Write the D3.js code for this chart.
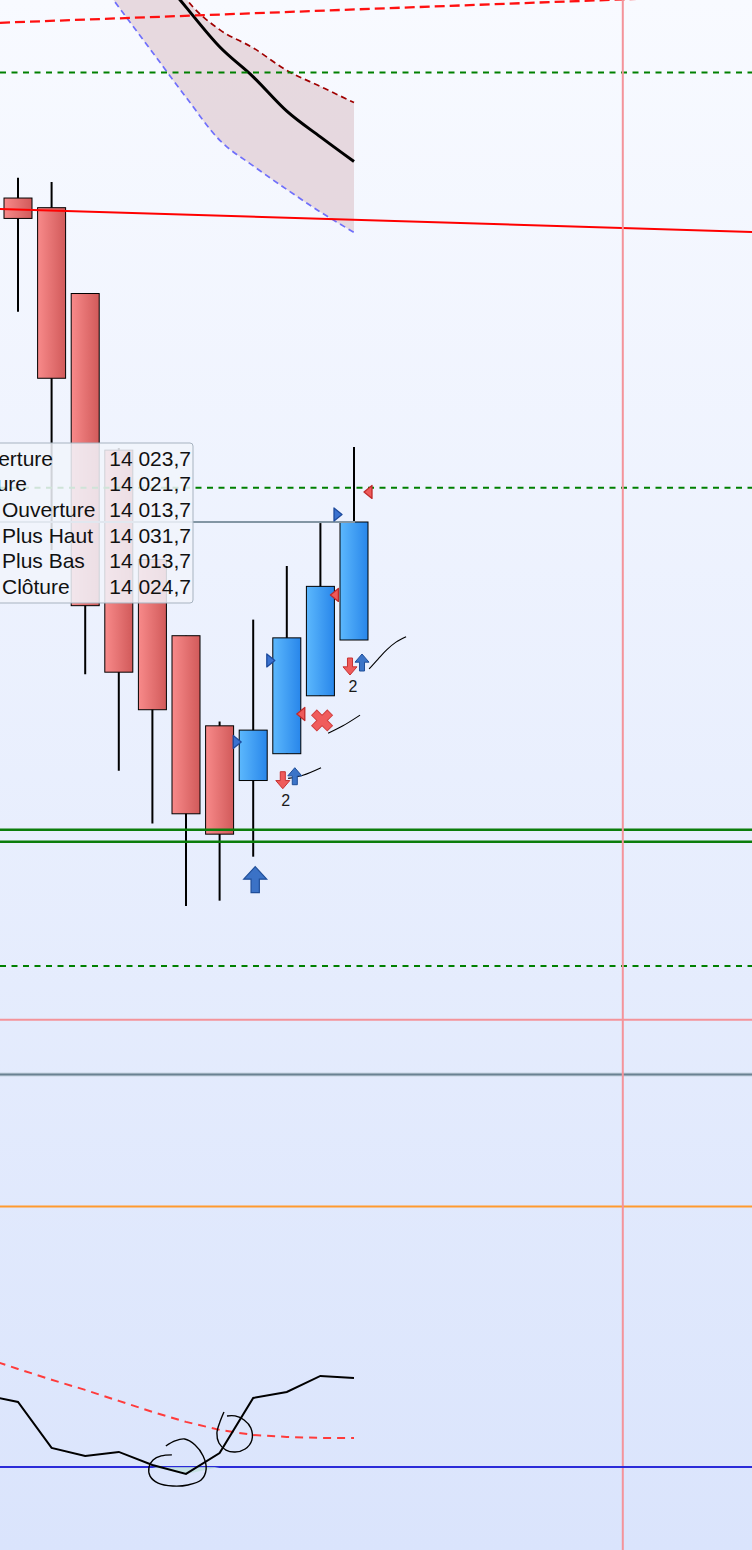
<!DOCTYPE html>
<html><head><meta charset="utf-8">
<script src="https://cdn.jsdelivr.net/npm/d3@7"></script>
<style>html,body{margin:0;padding:0;background:#fff}svg{display:block}</style>
</head><body>
<script>
// ---------- DATA ----------
const idx    = [0,1,2,3,4,5,6,7,8,9,10];
const opens  = [14054.9,14054.0,14046.0,14031.4,14021.2,14014.1,14005.7,14000.6,14003.1,14008.5,14013.7];
const highs  = [14056.8,14056.4,14046.0,14031.6,14021.2,14014.1,14006.1,14015.6,14020.6,14024.6,14031.7];
const lows   = [14044.3,14022.1,14010.5,14001.5,13996.6,13988.9,13989.4,13993.5,14003.1,14008.5,14013.7];
const closes = [14053.0,14038.1,14016.9,14010.7,14007.2,13997.5,13995.6,14005.3,14013.9,14018.7,14024.7];

const bandIdx   = [2,3,4,5,6,7,8,9,10];
const bandUpper = [14090.1,14085.5,14079.0,14073.5,14070.6,14068.9,14066.8,14065.3,14063.8];
const bandMid   = [14086.4,14081.3,14076.6,14072.7,14069.0,14066.2,14063.0,14060.6,14058.3];
const bandLower = [14076.9,14072.7,14068.5,14064.3,14060.3,14057.9,14055.7,14053.6,14051.7];

const trendSolid  = [[0,14053.83],[20,14051.91]];
const trendDashed = [[0,14071.3],[17,14073.3]];
const greenDashedLevels = [14066.6,14027.9,13983.3];
const greenSolidLevels  = [13996.0,13994.9];
const pinkLevel = 13978.3, greyLevel = 13973.2, orangeLevel = 13960.9;
const vLineIndex = 18;

const entryMarks = [[7,14004.2],[8,14011.8],[10,14025.4]];
const exitMarks  = [[8,14006.8],[9,14017.9],[10,14027.5]];
const crossMarks = [[9.05,14006.2]];
const pairArrowIdx = [8,10];
const pairLabels = ["2","2"];
const bigArrowIdx = [7];

const oscIdx   = [-1,0,1,2,3,4,5,6,7,8,9,10];
const oscMain  = [54.0,50.7,29.0,25.2,27.1,20.9,16.7,26.6,52.6,55.4,63.0,62.0];
const oscSignal= [71.5,66.3,61.2,56.4,51.2,46.0,41.3,37.5,35.1,34.2,33.7,33.7];
const oscLevel = 20;

const loop1 = [[4.40,29.9],[4.67,32.3],[4.96,33.2],[5.27,30.4],[5.51,25.2],[5.60,19.0],[5.45,13.8],[5.06,11.5],[4.61,11.0],[4.17,12.4],[3.93,15.7],[3.90,20.0],[4.02,23.3],[4.26,25.2],[4.58,25.7]];
const loop2 = [[6.13,46.0],[6.01,41.3],[5.92,36.0],[5.98,31.3],[6.19,28.0],[6.46,27.1],[6.76,28.5],[6.96,32.7],[6.93,38.4],[6.73,42.2],[6.46,44.1],[6.22,44.1]];
const strokeA = [[10.45,14011.0],[10.71,14011.9],[10.98,14012.8],[11.25,14013.5],[11.55,14014.0]];
const strokeB = [[9.23,14005.0],[9.67,14005.7],[10.18,14006.7]];
const strokeC = [[8.04,14000.8],[8.48,14001.1],[9.02,14001.8]];

const tipLabels = ["Ouverture","Clôture","Ouverture","Plus Haut","Plus Bas","Clôture"];
const tipValues = [14023.7,14021.7,14013.7,14031.7,14013.7,14024.7];

// ---------- CHART ----------
const W=752,H=1550;
const x = d3.scaleLinear().domain([0,10]).range([18,354]);
const y = d3.scaleLinear().domain([14013.7,14024.7]).range([640,522]);
const yI = d3.scaleLinear().domain([0,100]).range([1509.3,1297.6]);
const fr = d3.formatLocale({decimal:",",thousands:" ",grouping:[3],currency:["","€"]}).format(",.1f");
const FONT = "Liberation Sans, Arial, Helvetica, sans-serif";

const svg = d3.select("body").append("svg").attr("width",W).attr("height",H);
const defs = svg.append("defs");
const bg = defs.append("linearGradient").attr("id","bg").attr("x1",0).attr("y1",0).attr("x2",0).attr("y2",1);
bg.append("stop").attr("offset",0).attr("stop-color","#f8faff");
bg.append("stop").attr("offset",1).attr("stop-color","#dae4fc");
const gb = defs.append("linearGradient").attr("id","bear");
gb.append("stop").attr("offset",0).attr("stop-color","#f88a8a");
gb.append("stop").attr("offset",1).attr("stop-color","#d15a5a");
const gu = defs.append("linearGradient").attr("id","bull");
gu.append("stop").attr("offset",0).attr("stop-color","#5cb8fd");
gu.append("stop").attr("offset",1).attr("stop-color","#2886ea");

svg.append("rect").attr("width",W).attr("height",H).attr("fill","url(#bg)");

// band fill
const bandData = bandIdx.map((d,i)=>({i:d,u:bandUpper[i],m:bandMid[i],l:bandLower[i]}));
svg.append("path").datum(bandData)
  .attr("d",d3.area().x(d=>x(d.i)).y0(d=>y(d.l)).y1(d=>y(d.u)).curve(d3.curveMonotoneX))
  .attr("fill","#dcc3c9").attr("fill-opacity",0.6);

// candles
const candles = idx.map((d,i)=>({i:d,o:opens[i],h:highs[i],l:lows[i],c:closes[i]}));
const bw = 28;
const cg = svg.append("g");
cg.selectAll("line").data(candles).join("line")
  .attr("x1",d=>x(d.i)).attr("x2",d=>x(d.i))
  .attr("y1",d=>y(d.h)).attr("y2",d=>y(d.l))
  .attr("stroke","#000").attr("stroke-width",2);
cg.selectAll("rect").data(candles).join("rect")
  .attr("x",d=>x(d.i)-bw/2).attr("width",bw)
  .attr("y",d=>y(Math.max(d.o,d.c))).attr("height",d=>Math.abs(y(d.o)-y(d.c)))
  .attr("fill",d=>d.c>=d.o?"url(#bull)":"url(#bear)")
  .attr("stroke","#000").attr("stroke-width",1);

// band lines
svg.append("path").attr("d",d3.line().x(d=>x(d.i)).y(d=>y(d.u)).curve(d3.curveMonotoneX)(bandData))
  .attr("fill","none").attr("stroke","#a00000").attr("stroke-width",1.7).attr("stroke-dasharray","6,4");
svg.append("path").attr("d",d3.line().x(d=>x(d.i)).y(d=>y(d.l)).curve(d3.curveMonotoneX)(bandData))
  .attr("fill","none").attr("stroke","#6f6ffb").attr("stroke-width",1.7).attr("stroke-dasharray","6,4");
svg.append("path").attr("d",d3.line().x(d=>x(d.i)).y(d=>y(d.m)).curve(d3.curveMonotoneX)(bandData))
  .attr("fill","none").attr("stroke","#000").attr("stroke-width",3);

// horizontal levels
function hline(p,color,w,dash){
  const l=svg.append("line").attr("x1",0).attr("x2",W).attr("y1",y(p)).attr("y2",y(p))
    .attr("stroke",color).attr("stroke-width",w);
  if(dash) l.attr("stroke-dasharray",dash);
  return l;
}
greenDashedLevels.forEach(p=>hline(p,"#008000",2,"6,5.5"));
greenSolidLevels.forEach(p=>hline(p,"#0b7d0b",2.5));
hline(pinkLevel,"#f4939a",2);
hline(greyLevel,"#a9bac6",3.4);
hline(greyLevel,"#6a8192",1.4);
hline(orangeLevel,"#ff9a2e",2);
// last price line
svg.append("line").attr("x1",0).attr("x2",x(10)+1).attr("y1",y(closes[10])).attr("y2",y(closes[10]))
  .attr("stroke","#8396a4").attr("stroke-width",2);

// trend lines (extended across width)
function trend(a,color,w,dash){
  const s=(a[1][1]-a[0][1])/(a[1][0]-a[0][0]);
  const i0=x.invert(0), i1=x.invert(W);
  const l=svg.append("line").attr("x1",0).attr("x2",W)
    .attr("y1",y(a[0][1]+s*(i0-a[0][0]))).attr("y2",y(a[0][1]+s*(i1-a[0][0])))
    .attr("stroke",color).attr("stroke-width",w);
  if(dash) l.attr("stroke-dasharray",dash);
}
trend(trendSolid,"#ff0000",2);
trend(trendDashed,"#ff1010",2.3,"10,5");

// vertical line
svg.append("line").attr("x1",x(vLineIndex)).attr("x2",x(vLineIndex)).attr("y1",0).attr("y2",H)
  .attr("stroke","#f4939a").attr("stroke-width",2);

// oscillator
svg.append("line").attr("x1",0).attr("x2",W).attr("y1",yI(oscLevel)).attr("y2",yI(oscLevel))
  .attr("stroke","#2b2bd9").attr("stroke-width",2);
const osc = oscIdx.map((d,i)=>({i:d,v:oscMain[i],s:oscSignal[i]}));
svg.append("path").attr("d",d3.area().x(d=>x(d.i)).y0(yI(oscLevel)).y1(d=>yI(Math.min(d.v,oscLevel)))(osc))
  .attr("fill","#bfe0dc").attr("fill-opacity",0.8);
svg.append("path").attr("d",d3.line().x(d=>x(d.i)).y(d=>yI(d.s))(osc))
  .attr("fill","none").attr("stroke","#ff3b3b").attr("stroke-width",2).attr("stroke-dasharray","8,6");
svg.append("path").attr("d",d3.line().x(d=>x(d.i)).y(d=>yI(d.v))(osc))
  .attr("fill","none").attr("stroke","#000").attr("stroke-width",2);

// freehand drawings
const fhI = d3.line().x(d=>x(d[0])).y(d=>yI(d[1])).curve(d3.curveCatmullRom);
[loop1,loop2].forEach(p=>svg.append("path").attr("d",fhI(p)).attr("fill","none").attr("stroke","#000").attr("stroke-width",1.4));
const fhP = d3.line().x(d=>x(d[0])).y(d=>y(d[1])).curve(d3.curveCatmullRom);
[strokeA,strokeB,strokeC].forEach(p=>svg.append("path").attr("d",fhP(p)).attr("fill","none").attr("stroke","#000").attr("stroke-width",1.1));

// markers
function arrowPath(w,h,dir){
  const hh=h*0.48, sw=w*0.36;
  const pts=[[0,0],[w/2,hh],[sw/2,hh],[sw/2,h],[-sw/2,h],[-sw/2,hh],[-w/2,hh]].map(p=>[p[0],p[1]*dir]);
  return d3.line()(pts)+"Z";
}
const mg = svg.append("g");
entryMarks.forEach(([i,p])=>{
  const tx=x(i)-bw/2+2, cy=y(p);
  mg.append("path").attr("d",d3.line()([[tx,cy],[tx-8,cy-6.5],[tx-8,cy+6.5]])+"Z")
    .attr("fill","#3a72d0").attr("stroke","#1d4a9c").attr("stroke-width",1.3).attr("stroke-linejoin","round");
});
exitMarks.forEach(([i,p])=>{
  const tx=x(i)+bw/2-4, cy=y(p);
  mg.append("path").attr("d",d3.line()([[tx,cy],[tx+8,cy-6.5],[tx+8,cy+6.5]])+"Z")
    .attr("fill","#ee5a5a").attr("stroke","#c02a2a").attr("stroke-width",1.3).attr("stroke-linejoin","round");
});
crossMarks.forEach(([i,p])=>{
  mg.append("path").attr("d",d3.symbol(d3.symbolCross).size(270)())
    .attr("transform",`translate(${x(i)},${y(p)}) rotate(45)`)
    .attr("fill","#f05c5c").attr("stroke","#d24040").attr("stroke-width",1);
});
pairArrowIdx.forEach((i,k)=>{
  const by=y(lows[i]);
  mg.append("path").attr("d",arrowPath(14,17,-1)).attr("transform",`translate(${x(i)-4},${by+35})`)
    .attr("fill","#ef5b5b").attr("stroke","#c73232").attr("stroke-width",1);
  mg.append("path").attr("d",arrowPath(14,17,1)).attr("transform",`translate(${x(i)+8},${by+14})`)
    .attr("fill","#3b74c8").attr("stroke","#1f4e99").attr("stroke-width",1);
  mg.append("text").attr("x",x(i)-1).attr("y",by+52).attr("text-anchor","middle")
    .attr("font-family",FONT).attr("font-size",16).attr("fill","#1a1a1a").text(pairLabels[k]);
});
bigArrowIdx.forEach(i=>{
  mg.append("path").attr("d",arrowPath(23,26,1)).attr("transform",`translate(${x(i)+2},${y(lows[i])+10})`)
    .attr("fill","#3b72c6").attr("stroke","#1f4e99").attr("stroke-width",1.2);
});

// tooltip
const tg = svg.append("g");
tg.append("rect").attr("x",-20).attr("y",443).attr("width",213).attr("height",160).attr("rx",3)
  .attr("fill","#f1f4fc").attr("fill-opacity",0.86).attr("stroke","#a7b3c0").attr("stroke-width",1);
const rowY = d3.scaleLinear().domain([0,1]).range([465.8,491.4]);
const labelEnds = [53,27];
tipLabels.forEach((t,k)=>{
  const tx = tg.append("text").attr("y",rowY(k)).attr("font-family",FONT)
    .attr("font-size",21).attr("fill","#111").text(t);
  if(k<2) tx.attr("x",labelEnds[k]).attr("text-anchor","end"); else tx.attr("x",2);
  tg.append("text").attr("x",191).attr("y",rowY(k)).attr("text-anchor","end")
    .attr("font-family",FONT).attr("font-size",21).attr("fill","#111").text(fr(tipValues[k]));
});
</script>
</body></html>
